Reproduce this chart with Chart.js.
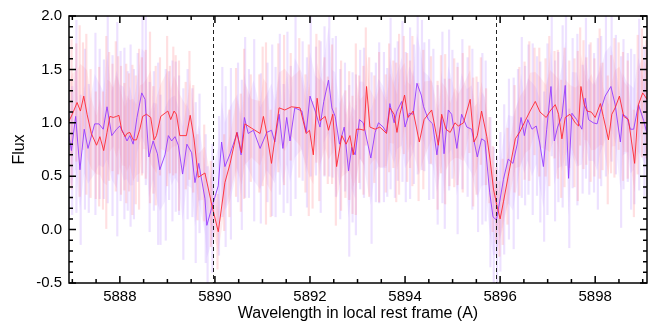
<!DOCTYPE html>
<html>
<head>
<meta charset="utf-8">
<script src="https://cdn.jsdelivr.net/npm/chart.js@4/dist/chart.umd.min.js"></script>
<style>html,body{margin:0;padding:0;background:#fff;}canvas{display:block;}</style>
</head>
<body>
<canvas id="c" width="666" height="331"></canvas>
<script>
const redWave = [5886.91,5887.00,5887.10,5887.17,5887.24,5887.31,5887.40,5887.51,5887.58,5887.66,
5887.73,5887.79,5887.86,5887.93,5887.98,5888.04,5888.11,5888.15,5888.21,5888.28,
5888.35,5888.42,5888.48,5888.56,5888.65,5888.72,5888.77,5888.86,5889.01,5889.07,
5889.14,5889.19,5889.26,5889.40,5889.48,5889.56,5889.65,5889.79,5889.93,5890.07,
5890.21,5890.32,5890.46,5890.56,5890.63,5890.77,5890.95,5891.02,5891.09,5891.19,
5891.35,5891.47,5891.61,5891.79,5891.92,5891.99,5892.07,5892.15,5892.21,5892.32,
5892.39,5892.48,5892.56,5892.67,5892.76,5892.84,5892.91,5892.98,5893.05,5893.14,
5893.19,5893.26,5893.37,5893.47,5893.61,5893.68,5893.77,5893.83,5893.89,5893.99,
5894.06,5894.12,5894.17,5894.30,5894.40,5894.56,5894.70,5894.77,5894.86,5894.95,
5895.05,5895.12,5895.23,5895.37,5895.45,5895.52,5895.61,5895.72,5895.79,5895.86,
5895.93,5896.00,5896.07,5896.17,5896.32,5896.42,5896.53,5896.63,5896.74,5896.84,
5896.97,5897.05,5897.16,5897.23,5897.30,5897.37,5897.47,5897.58,5897.65,5897.70,
5897.77,5897.83,5897.92,5898.00,5898.11,5898.17,5898.28,5898.35,5898.42,5898.51,
5898.60,5898.70,5898.83,5898.91,5899.00,5899.09];
const redFlux = [1.00,1.08,1.19,1.11,1.25,1.08,0.90,0.79,0.87,0.74,
0.91,1.06,1.05,1.06,1.07,0.93,0.87,0.90,0.91,0.84,
0.84,0.94,1.06,1.08,1.05,0.84,0.88,1.06,1.11,1.03,
1.11,1.08,0.88,0.88,1.07,0.85,0.49,0.53,0.24,-0.02,
0.44,0.62,0.91,0.72,0.99,0.95,0.90,1.06,0.90,0.62,
1.14,1.12,1.15,1.14,0.90,0.93,0.70,1.23,1.02,1.06,
0.93,1.08,0.59,0.88,0.80,0.88,0.70,0.94,0.94,0.93,
1.34,0.96,0.94,0.96,0.90,1.14,1.08,0.91,1.08,1.26,
1.05,1.08,1.11,0.82,1.03,1.12,0.79,1.08,0.94,0.91,
1.00,0.97,1.00,1.22,0.82,0.88,1.11,0.87,0.65,0.38,
0.23,0.10,0.26,0.50,0.85,0.92,1.02,1.11,1.20,1.10,
1.05,1.11,1.17,1.08,0.85,1.05,1.08,1.00,0.97,1.34,
1.17,1.11,1.10,1.05,1.18,1.06,0.84,1.08,1.14,1.25,
1.06,1.03,0.62,1.17,1.28,1.22];
const redErr = [0.6,0.7,0.55,0.8,0.5,0.75,0.6,0.5,0.65,0.55,
0.9,0.6,0.5,0.7,0.55,0.6,0.5,0.65,0.55,0.7,
0.6,0.75,0.55,0.6,0.8,0.5,0.65,0.55,0.7,0.5,
0.6,0.55,0.7,0.5,0.6,0.5,0.4,0.45,0.4,0.35,
0.45,0.5,0.6,0.55,0.7,0.5,0.55,0.65,0.85,0.5,
0.6,0.7,0.5,0.65,0.55,0.8,0.5,0.6,0.75,0.55,
0.5,0.65,0.55,0.7,0.5,0.6,0.55,0.8,0.5,0.6,
0.55,0.65,0.5,0.7,0.55,0.6,0.5,0.65,0.75,0.55,
0.6,0.5,0.7,0.55,0.65,0.5,0.6,0.55,0.7,0.5,
0.6,0.55,0.65,0.5,0.6,0.55,0.5,0.45,0.4,0.4,
0.35,0.35,0.4,0.45,0.5,0.6,0.55,0.65,0.5,0.6,
0.55,0.7,0.5,0.6,0.55,0.65,0.5,0.6,0.7,0.55,
0.6,0.5,0.65,0.55,0.7,0.5,0.6,0.55,0.65,0.5,
0.6,0.55,0.5,0.65,0.6,0.55];

const purpleWave = [5886.91,5886.98,5887.07,5887.16,5887.25,5887.33,5887.47,5887.56,5887.65,5887.73,
5887.83,5887.93,5888.00,5888.08,5888.15,5888.21,5888.28,5888.36,5888.46,5888.53,
5888.61,5888.70,5888.79,5888.84,5888.95,5889.02,5889.09,5889.16,5889.23,5889.32,
5889.41,5889.51,5889.58,5889.66,5889.79,5889.83,5889.93,5890.07,5890.14,5890.21,
5890.32,5890.47,5890.55,5890.62,5890.70,5890.81,5890.95,5891.09,5891.19,5891.26,
5891.35,5891.43,5891.51,5891.58,5891.68,5891.83,5891.92,5892.00,5892.11,5892.21,
5892.29,5892.39,5892.46,5892.53,5892.62,5892.72,5892.81,5892.88,5892.95,5893.04,
5893.12,5893.28,5893.37,5893.44,5893.54,5893.61,5893.68,5893.77,5893.83,5893.93,
5894.00,5894.09,5894.17,5894.25,5894.34,5894.39,5894.49,5894.58,5894.67,5894.77,
5894.82,5894.91,5894.98,5895.09,5895.19,5895.30,5895.40,5895.52,5895.61,5895.68,
5895.78,5895.85,5895.92,5895.99,5896.07,5896.17,5896.27,5896.36,5896.44,5896.51,
5896.58,5896.67,5896.76,5896.83,5896.91,5896.98,5897.07,5897.14,5897.21,5897.30,
5897.37,5897.44,5897.51,5897.61,5897.72,5897.79,5897.86,5897.96,5898.04,5898.11,
5898.21,5898.33,5898.42,5898.53,5898.58,5898.67,5898.74,5898.81,5898.91,5899.02,
5899.09];
const purpleFlux = [0.93,0.74,1.06,0.56,0.94,0.76,0.99,0.99,0.94,1.15,
0.88,0.94,0.97,0.90,0.83,0.88,0.80,1.05,1.28,1.22,
0.68,0.83,0.71,0.56,0.70,0.88,0.83,0.87,0.79,0.52,
0.80,0.72,0.44,0.62,0.29,0.04,0.20,0.41,0.82,0.59,
0.71,0.91,0.70,1.05,0.90,0.93,0.76,0.91,0.93,0.82,
1.08,0.76,1.05,0.83,1.14,1.11,0.91,1.25,1.11,0.96,
1.20,1.40,1.14,1.06,0.80,0.96,0.55,0.77,0.70,1.03,
1.00,0.67,0.91,1.00,0.96,0.91,1.18,1.00,1.11,1.20,
0.96,1.09,1.08,1.37,1.26,1.15,1.03,0.99,0.70,1.05,
0.71,1.12,1.08,0.76,1.08,0.96,0.94,0.68,0.85,0.83,
0.35,0.12,0.09,0.26,0.47,0.66,0.62,0.80,1.05,0.88,
1.03,0.94,0.97,0.82,0.59,0.94,1.34,0.83,0.96,1.06,
1.35,0.48,1.09,1.03,0.94,1.23,1.03,1.00,0.99,1.11,
1.25,1.34,1.17,0.82,1.08,1.05,0.94,0.94,1.17,1.02,
0.90];
const purpleErr = [0.8,0.6,0.9,0.7,0.75,0.6,0.85,0.7,0.65,0.9,
0.75,1.0,0.7,0.8,0.65,0.85,0.7,0.6,0.75,0.8,
0.7,0.65,0.85,0.7,0.8,0.6,0.75,0.7,0.65,0.8,
0.7,0.6,0.75,0.65,0.6,0.55,0.6,0.65,0.7,0.75,
0.8,0.65,0.7,0.75,0.6,0.85,0.7,0.65,0.8,0.7,
0.75,0.6,0.8,0.7,0.85,0.65,0.7,0.75,0.6,0.8,
0.7,0.9,0.65,0.75,0.7,0.6,0.8,0.7,0.75,0.65,
0.7,0.8,0.65,0.75,0.7,0.6,0.8,0.7,0.65,0.75,
0.7,0.8,0.65,0.85,0.7,0.6,0.75,0.7,0.65,0.8,
0.7,0.75,0.6,0.8,0.7,0.65,0.75,0.7,0.8,0.75,
0.7,0.65,0.6,0.65,0.7,0.75,0.8,0.7,0.75,0.65,
0.7,0.8,0.65,0.75,0.7,0.8,0.65,0.75,0.7,0.85,
0.75,0.65,0.7,0.8,0.6,0.75,0.7,0.65,0.8,0.7,
0.75,0.7,0.65,0.8,0.7,0.6,0.75,0.7,0.8,0.7,
0.65];

const xTickValues = [5888,5890,5892,5894,5896,5898];
const yTickValues = [-0.5,0.0,0.5,1.0,1.5,2.0];
const naLines = [5889.95,5895.92];

const FONT = "'Liberation Sans', Arial, Helvetica, sans-serif";

const framePlugin = {
  id: 'frame',
  afterDatasetsDraw(chart) {
    const {ctx, chartArea: {left, right, top, bottom}, scales: {x, y}} = chart;
    ctx.save();
    ctx.strokeStyle = '#222';
    ctx.lineWidth = 1;
    ctx.setLineDash([4, 3]);
    naLines.forEach(w => {
      const px = Math.round(x.getPixelForValue(w)) + 0.5;
      ctx.beginPath(); ctx.moveTo(px, top); ctx.lineTo(px, bottom); ctx.stroke();
    });
    ctx.setLineDash([]);
    ctx.strokeStyle = '#000';
    ctx.lineWidth = 1.5;
    for (let k = 0; k <= 24; k++) {
      const v = 5887 + k * 0.5;
      const px = x.getPixelForValue(v);
      if (px < left || px > right) continue;
      const len = (v % 2 === 0) ? 7 : 4;
      ctx.beginPath();
      ctx.moveTo(px, bottom); ctx.lineTo(px, bottom - len);
      ctx.moveTo(px, top); ctx.lineTo(px, top + len);
      ctx.stroke();
    }
    for (let k = 0; k <= 25; k++) {
      const py = y.getPixelForValue(-0.5 + k * 0.1);
      const len = (k % 5 === 0) ? 7 : 4;
      ctx.beginPath();
      ctx.moveTo(left, py); ctx.lineTo(left + len, py);
      ctx.moveTo(right, py); ctx.lineTo(right - len, py);
      ctx.stroke();
    }
    ctx.strokeRect(left, top, right - left, bottom - top);
    ctx.restore();
  }
};

const band = (wave, flux, err) => wave.map((w, i) => ({x: w, y: [flux[i] - err[i], flux[i] + err[i]]}));
const edge = (wave, flux, err, s) => wave.map((w, i) => ({x: w, y: flux[i] + s * err[i]}));
const pts = (wave, flux) => wave.map((w, i) => ({x: w, y: flux[i]}));
const edgeStyle = {type: 'line', borderWidth: 0, pointRadius: 0, tension: 0};

new Chart(document.getElementById('c'), {
  type: 'line',
  data: {
    datasets: [
      Object.assign({data: edge(purpleWave, purpleFlux, purpleErr, 0.55), fill: false, order: 8}, edgeStyle),
      Object.assign({data: edge(purpleWave, purpleFlux, purpleErr, -0.55), fill: '-1', backgroundColor: 'rgba(190,150,255,0.16)', order: 7}, edgeStyle),
      Object.assign({data: edge(redWave, redFlux, redErr, 0.55), fill: false, order: 6}, edgeStyle),
      Object.assign({data: edge(redWave, redFlux, redErr, -0.55), fill: '-1', backgroundColor: 'rgba(255,150,160,0.17)', order: 5}, edgeStyle),
      {type: 'bar', data: band(purpleWave, purpleFlux, purpleErr), backgroundColor: 'rgba(175,120,255,0.22)', borderWidth: 0, barThickness: 1.5, order: 4},
      {type: 'bar', data: band(redWave, redFlux, redErr), backgroundColor: 'rgba(255,110,120,0.22)', borderWidth: 0, barThickness: 1.5, order: 3},
      {type: 'line', data: pts(purpleWave, purpleFlux), borderColor: 'rgba(150,60,255,0.9)', borderWidth: 1, pointRadius: 0, tension: 0, order: 2},
      {type: 'line', data: pts(redWave, redFlux), borderColor: 'rgba(255,40,50,0.9)', borderWidth: 1, pointRadius: 0, tension: 0, order: 1}
    ]
  },
  options: {
    responsive: false,
    animation: false,
    devicePixelRatio: 1,
    layout: {padding: {left: 0, right: 19, top: 9, bottom: 0}},
    plugins: {legend: {display: false}, tooltip: {enabled: false}},
    scales: {
      x: {
        type: 'linear', min: 5886.93, max: 5899.09, offset: false,
        grid: {display: false, drawTicks: false}, border: {display: false},
        afterBuildTicks: s => { s.ticks = xTickValues.map(v => ({value: v})); },
        afterFit: s => { s.height = 48; },
        ticks: {padding: 5, color: '#000', font: {family: FONT, size: 15}, maxRotation: 0, callback: v => String(v)},
        title: {display: true, text: 'Wavelength in local rest frame (A)', color: '#000', font: {family: FONT, size: 16}, padding: {top: 0, bottom: 8}}
      },
      y: {
        type: 'linear', min: -0.5, max: 2.0,
        grid: {display: false, drawTicks: false}, border: {display: false},
        afterBuildTicks: s => { s.ticks = yTickValues.map(v => ({value: v})); },
        afterFit: s => { s.width = 69; },
        ticks: {padding: 7, color: '#000', font: {family: FONT, size: 15}, callback: v => Number(v).toFixed(1)},
        title: {display: true, text: 'Flux', color: '#000', font: {family: FONT, size: 16}, padding: {top: 10, bottom: 0}}
      }
    }
  },
  plugins: [framePlugin]
});
</script>
</body>
</html>
